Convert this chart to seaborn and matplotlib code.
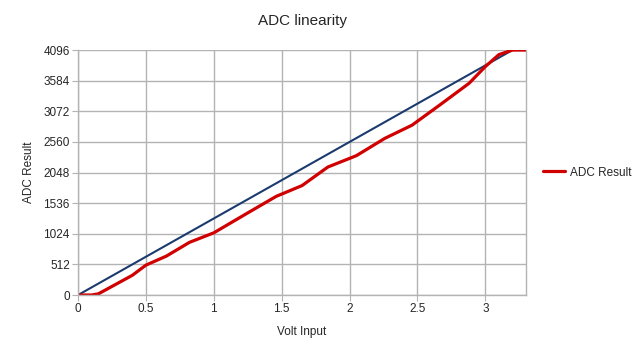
import pandas as pd
import matplotlib.pyplot as plt
import seaborn as sns

# measured ADC readings against input voltage
volts = [0, 0.1, 0.15, 0.4, 0.5, 0.65, 0.82, 1.0, 1.24, 1.46, 1.65, 1.84,
         2.05, 2.26, 2.46, 2.66, 2.88, 3.0, 3.1, 3.2, 3.3]
adc = [0, 0, 20, 330, 500, 650, 880, 1040, 1360, 1650, 1830, 2140,
       2330, 2620, 2840, 3170, 3540, 3820, 4020, 4096, 4096]

# ideal line
ideal_volts = [0, 3.2]
ideal_adc = [0, 4096]

yticks = [0, 512, 1024, 1536, 2048, 2560, 3072, 3584, 4096]
xticks = [0, 0.5, 1, 1.5, 2, 2.5, 3]

sns.set_style("whitegrid")
plt.rcParams['font.family'] = ['Liberation Sans', 'DejaVu Sans']

df = pd.DataFrame({"Volt Input": volts, "ADC Result": adc})
ideal = pd.DataFrame({"Volt Input": ideal_volts, "ADC Result": ideal_adc})

fig, ax = plt.subplots(figsize=(6.4, 3.55), dpi=100)
fig.subplots_adjust(left=0.122, right=0.822, top=0.859, bottom=0.169)

sns.lineplot(data=ideal, x="Volt Input", y="ADC Result", ax=ax,
             color="#1b3a6e", linewidth=1.5, label="_nolegend_")
sns.lineplot(data=df, x="Volt Input", y="ADC Result", ax=ax,
             color="#d00000", linewidth=2.3, label="ADC Result")

ax.set_xlim(0, 3.3)
ax.set_ylim(0, 4096)
ax.set_xticks(xticks)
ax.set_xticklabels([str(t) for t in xticks])
ax.set_yticks(yticks)

ax.grid(True, color="#b3b3b3", linewidth=1)
for s in ax.spines.values():
    s.set_color("#b3b3b3")
    s.set_linewidth(1)
ax.spines['top'].set_visible(False)

ax.tick_params(axis='both', which='both', length=4, color="#b3b3b3",
               labelsize=8.5, pad=2, left=True, bottom=True)
ax.set_xlabel("Volt Input", fontsize=8.5, labelpad=8)
ax.set_ylabel("ADC Result", fontsize=8.5, labelpad=6)
ax.set_title("ADC linearity", fontsize=11, pad=18)

ax.legend(loc="center left", bbox_to_anchor=(1.037, 0.5), frameon=False,
          fontsize=8.5, handlelength=1.9, handletextpad=0.4,
          borderaxespad=0, borderpad=0)

fig.savefig("out.png", dpi=100)
